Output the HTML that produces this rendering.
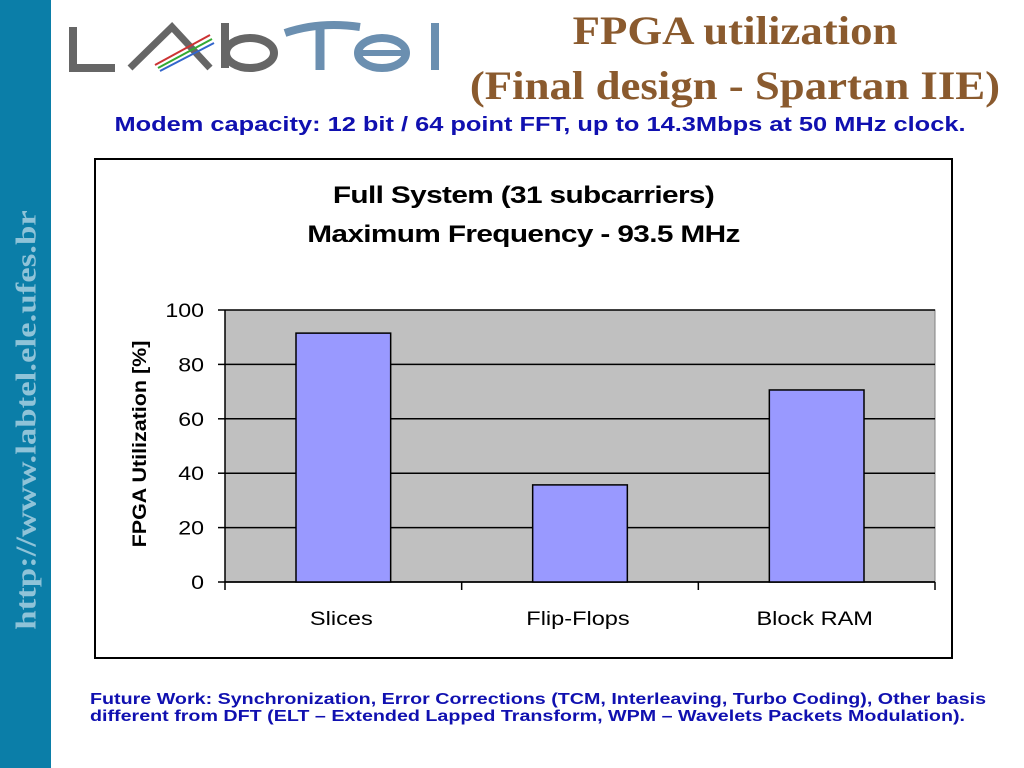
<!DOCTYPE html>
<html><head><meta charset="utf-8"><style>
body{margin:0;width:1024px;height:768px;background:#fff;position:relative;overflow:hidden;font-family:"Liberation Sans",sans-serif}
.abs{position:absolute}
</style></head><body>
<div class="abs" style="left:0;top:0;width:51px;height:768px;background:#0b7ea8"></div>
<div class="abs" style="left:27px;top:420px;transform:translate(-50%,-50%) rotate(-90deg) scaleX(1.2);white-space:nowrap;font-family:'Liberation Serif',serif;font-weight:bold;font-size:29px;color:#8fc3d8">http://www.labtel.ele.ufes.br</div>
<svg class="abs" style="left:60px;top:15px" width="400" height="60" viewBox="0 0 400 60">
<path d="M13 12 V53 H55" stroke="#666" stroke-width="8" fill="none"/>
<path d="M70 53 L112 12 L150 53" stroke="#666" stroke-width="7" fill="none"/>
<path d="M95 50 L150 20" stroke="#c33" stroke-width="2"/><path d="M98 53 L152 24" stroke="#3a3" stroke-width="2"/><path d="M100 56 L154 28" stroke="#36c" stroke-width="2"/>
<path d="M165 8 V53" stroke="#666" stroke-width="8"/><ellipse cx="190" cy="38" rx="24" ry="15" stroke="#666" stroke-width="8" fill="none"/>
<path d="M225 18 Q260 6 300 12" stroke="#6b8fb0" stroke-width="8" fill="none"/><path d="M260 14 V55" stroke="#6b8fb0" stroke-width="9"/>
<ellipse cx="322" cy="38" rx="24" ry="15" stroke="#6b8fb0" stroke-width="8" fill="none"/><path d="M298 38 H346" stroke="#6b8fb0" stroke-width="6"/>
<path d="M375 8 V55" stroke="#6b8fb0" stroke-width="8"/>
</svg>
<div class="abs" style="left:440px;top:3px;width:590px;text-align:center;font-family:'Liberation Serif',serif;font-weight:bold;font-size:40px;line-height:55px;color:#8a5a2e;transform:scaleX(1.12)">FPGA utilization<br>(Final design - Spartan IIE)</div>
<div class="abs" style="left:60px;top:114px;width:960px;text-align:center;font-weight:bold;font-size:20px;color:#1010b0;transform:scaleX(1.27)">Modem capacity: 12 bit / 64 point FFT, up to 14.3Mbps at 50 MHz clock.</div>
<div class="abs" style="left:94px;top:158px;width:855px;height:497px;border:2px solid #000"></div>
<div class="abs" style="left:96px;top:176px;width:855px;text-align:center;font-weight:bold;font-size:24px;line-height:39px;letter-spacing:-0.5px;transform:scaleX(1.24)">Full System (31 subcarriers)<br>Maximum Frequency - 93.5 MHz</div>
<svg class="abs" id="chart" style="left:0;top:0" width="1024" height="768"></svg>
<div class="abs" style="left:90px;top:691px;width:725px;font-weight:bold;font-size:15.5px;line-height:17px;color:#1010b0;transform:scaleX(1.27);transform-origin:left top">Future Work: Synchronization, Error Corrections (TCM, Interleaving, Turbo Coding), Other basis different from DFT (ELT – Extended Lapped Transform, WPM – Wavelets Packets Modulation).</div>
<script>
const categories=["Slices","Flip-Flops","Block RAM"];
const values=[91.5,35.7,70.6];
const ticks=[0,20,40,60,80,100];
const NS="http://www.w3.org/2000/svg",svg=document.getElementById('chart');
const X0=225,X1=935,Y0=582,Y1=310,ymax=100;
const y=v=>Y0-(v/ymax)*(Y0-Y1);
const cw=(X1-X0)/categories.length;
function mk(t,a,txt){const e=document.createElementNS(NS,t);for(const k in a)e.setAttribute(k,a[k]);if(txt!==undefined)e.textContent=txt;svg.appendChild(e);return e;}
let e=mk('rect',{x:X0,y:Y1,width:X1-X0,height:Y0-Y1,fill:'#c0c0c0',stroke:'#808080'});


ticks.forEach(t=>{
 e=mk('line',{x1:X0,x2:X1,y1:y(t),y2:y(t),stroke:'#000','stroke-width':1.5});
 
 
 mk('line',{x1:X0-7,x2:X0,y1:y(t),y2:y(t),stroke:'#000','stroke-width':1.5});
 e=mk('text',{x:0,y:0,transform:`translate(${X0-21},${y(t)+7}) scale(1.22,1)`,'text-anchor':'end','font-size':19,'font-family':'Liberation Sans'},t);
 
 
});
mk('line',{x1:X0,x2:X0,y1:Y1,y2:Y0+8,stroke:'#000','stroke-width':1.5});
mk('line',{x1:X0,x2:X1,y1:Y0,y2:Y0,stroke:'#000','stroke-width':1.5});
categories.forEach((c,i)=>{
 const cx=X0+cw*(i+0.5),bw=cw*0.4;
 e=mk('rect',{x:cx-bw/2,y:y(values[i]),width:bw,height:Y0-y(values[i]),fill:'#9999ff',stroke:'#000','stroke-width':1.5});
 
 
 mk('line',{x1:X0+cw*(i+1),x2:X0+cw*(i+1),y1:Y0,y2:Y0+8,stroke:'#000','stroke-width':1.5});
 e=mk('text',{x:0,y:0,transform:`translate(${cx-2},625) scale(1.24,1)`,'text-anchor':'middle','font-size':19,'font-family':'Liberation Sans'},c);
 
 
});
e=mk('text',{x:0,y:0,transform:'translate(146,444) rotate(-90) scale(1.13,1)','text-anchor':'middle','font-size':19,'font-weight':'bold','font-family':'Liberation Sans'},'FPGA Utilization [%]');


</script>
</body></html>
